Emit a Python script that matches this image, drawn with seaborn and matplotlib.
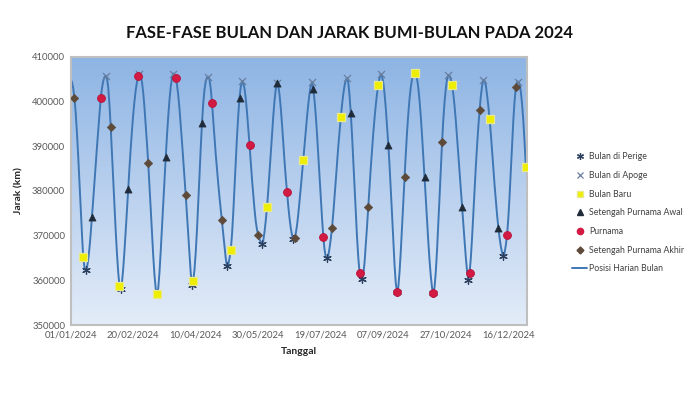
import numpy as np
import pandas as pd
import matplotlib
matplotlib.use("Agg")
import matplotlib.pyplot as plt
import matplotlib.dates as mdates
from matplotlib.colors import LinearSegmentedColormap
from matplotlib.lines import Line2D
import seaborn as sns

# daily Earth-Moon distance in thousand km, 01/01/2024 .. 30/12/2024
daily_kkm = [
    404.9, 404.4, 403.0, 400.8, 397.5, 393.0, 387.8, 382.0, 376.1, 370.4, 365.2, 362.9, 362.3,
    362.8, 364.6, 367.2, 370.5, 374.1, 378.0, 382.0, 386.0, 389.8, 393.5, 397.3, 400.8, 403.0, 404.6, 405.5, 405.8,
    405.3, 403.2, 399.3, 394.3, 388.6, 382.6, 376.6, 371.0, 366.0, 361.8, 358.7, 358.1,
    359.5, 362.6, 366.6, 371.0, 375.7, 380.5, 385.2, 389.6, 393.6, 397.1, 400.1, 402.6, 404.4, 405.7, 406.3,
    405.8, 404.4, 402.0, 398.7, 394.7, 390.6, 386.2, 381.3, 376.0, 370.6, 365.5, 361.2, 358.1, 356.9,
    358.2, 361.8, 366.6, 371.9, 377.2, 382.5, 387.6, 392.4, 396.7, 400.4, 403.3, 405.3, 406.3,
    406.1, 405.3, 403.8, 401.5, 398.4, 394.8, 391.0, 387.1, 383.1, 379.0, 374.6, 370.1, 365.5, 361.6, 358.9, 359.9,
    362.4, 366.3, 371.4, 377.2, 383.4, 389.7, 395.2, 399.6, 402.7, 404.6, 405.4, 405.6,
    405.0, 402.9, 399.7, 395.8, 391.8, 388.2, 384.8, 381.6, 378.6, 375.9, 373.4, 370.6, 367.6, 364.9, 363.2,
    363.6, 364.9, 366.8, 370.2, 375.1, 380.8, 386.7, 392.2, 396.9, 400.8, 403.3, 404.6,
    404.2, 402.9, 400.7, 397.6, 394.1, 390.4, 386.5, 382.6, 379.2, 375.9, 373.2, 371.3, 370.2, 369.2, 368.5, 368.1,
    368.9, 370.8, 373.4, 376.4, 380.1, 384.3, 388.6, 392.8, 396.7, 400.2, 402.8, 404.1,
    403.5, 401.6, 398.6, 394.9, 390.7, 386.7, 383.0, 379.7, 376.6, 373.9, 371.7, 370.1, 369.3, 369.5,
    370.5, 372.3, 374.8, 377.7, 380.7, 383.8, 386.9, 390.2, 393.5, 396.6, 399.4, 401.8, 403.5, 404.4,
    402.8, 400.3, 396.9, 392.7, 388.0, 383.2, 378.4, 373.9, 369.8, 366.9, 365.3, 364.9,
    365.5, 367.2, 369.3, 371.8, 375.0, 378.6, 382.4, 386.3, 390.0, 393.4, 396.5, 399.3, 401.7, 403.6, 404.8, 405.3,
    404.3, 401.4, 397.4, 392.5, 386.9, 381.0, 375.1, 369.6, 365.1, 361.7, 360.4, 360.2,
    361.3, 364.0, 367.9, 372.1, 376.5, 381.0, 385.3, 389.3, 393.0, 396.3, 399.3, 401.8, 403.7, 405.3, 406.2,
    405.7, 404.2, 401.8, 398.5, 394.6, 390.4, 385.7, 380.4, 374.7, 368.8, 363.4, 359.3, 357.3,
    358.5, 361.9, 366.6, 371.9, 377.5, 383.1, 388.4, 393.2, 397.3, 400.7, 403.3, 405.1, 406.1, 406.5,
    406.2, 405.1, 403.1, 400.2, 396.6, 392.4, 387.8, 383.1, 378.2, 373.3, 368.6, 364.4, 360.9, 358.3, 357.2,
    358.5, 362.0, 366.9, 372.6, 378.8, 384.9, 390.9, 396.0, 400.0, 403.0, 405.0, 405.9,
    405.8, 405.0, 403.7, 401.7, 399.0, 395.7, 392.0, 388.1, 384.2, 380.3, 376.5, 372.6, 368.8, 365.1, 362.0, 360.1,
    361.7, 365.0, 369.6, 374.9, 380.3, 385.5, 390.2, 394.4, 398.1, 401.2, 403.5, 404.9,
    404.7, 403.6, 401.5, 399.0, 396.1, 392.8, 389.1, 385.2, 381.3, 377.8, 374.6, 371.8, 369.5, 367.6, 366.2, 365.4,
    366.2, 367.9, 370.2, 374.0, 379.0, 384.8, 390.6, 395.9, 400.2, 403.3, 404.4, 404.5,
    403.9, 402.2, 399.4, 395.6, 390.8, 385.3,
]

perigee_dates = ["2024-01-13", "2024-02-10", "2024-03-10", "2024-04-07", "2024-05-05", "2024-06-02", "2024-06-27",
                 "2024-07-24", "2024-08-21", "2024-09-18", "2024-10-17", "2024-11-14", "2024-12-12"]
perigee_km = [362300, 358100, 356900, 358900, 363200, 368100, 369300, 364900, 360200, 357300, 357200, 360100, 365400]

apogee_dates = ["2024-01-29", "2024-02-25", "2024-03-23", "2024-04-20", "2024-05-17", "2024-06-14", "2024-07-12",
                "2024-08-09", "2024-09-05", "2024-10-02", "2024-10-29", "2024-11-26", "2024-12-24"]
apogee_km = [405800, 406300, 406300, 405600, 404600, 404100, 404400, 405300, 406200, 406500, 405900, 404900, 404500]

new_moon_dates = ["2024-01-11", "2024-02-09", "2024-03-10", "2024-04-08", "2024-05-08", "2024-06-06", "2024-07-05",
                  "2024-08-04", "2024-09-03", "2024-10-02", "2024-11-01", "2024-12-01", "2024-12-30"]
new_moon_km = [365200, 358700, 356900, 359900, 366800, 376400, 386900, 396500, 403700, 406500, 403700, 396100, 385300]

first_q_dates = ["2024-01-18", "2024-02-16", "2024-03-17", "2024-04-15", "2024-05-15", "2024-06-14",
                 "2024-07-13", "2024-08-12", "2024-09-11", "2024-10-10", "2024-11-09", "2024-12-08"]
first_q_km = [374100, 380500, 387600, 395200, 400800, 404100, 402800, 397400, 390400, 383100, 376500, 371800]

full_moon_dates = ["2024-01-25", "2024-02-24", "2024-03-25", "2024-04-23", "2024-05-23", "2024-06-22",
                   "2024-07-21", "2024-08-19", "2024-09-18", "2024-10-17", "2024-11-15", "2024-12-15"]
full_moon_km = [400800, 405700, 405300, 399700, 390400, 379700, 369800, 361700, 357300, 357200, 361700, 370200]

last_q_dates = ["2024-01-04", "2024-02-02", "2024-03-03", "2024-04-02", "2024-05-01", "2024-05-30", "2024-06-28",
                "2024-07-28", "2024-08-26", "2024-09-24", "2024-10-24", "2024-11-23", "2024-12-22"]
last_q_km = [400800, 394300, 386200, 379000, 373400, 370200, 369500, 371800, 376500, 383100, 390900, 398100, 403300]

tick_dates = ["2024-01-01", "2024-02-20", "2024-04-10", "2024-05-30", "2024-07-19", "2024-09-07", "2024-10-27", "2024-12-16"]
y_ticks = [350000, 360000, 370000, 380000, 390000, 400000, 410000]

sns.set_style("white")
plt.rcParams["font.family"] = ["Lato", "DejaVu Sans"]

fig = plt.figure(figsize=(7, 3.93), dpi=100)
ax = fig.add_axes([0.101, 0.173, 0.652, 0.682])

# gradient plot area
grad = LinearSegmentedColormap.from_list("bg", ["#E3ECF8", "#B9D0EE", "#8DB4E4"])
ax.imshow(np.linspace(0, 1, 256).reshape(-1, 1), cmap=grad, origin="lower", aspect="auto",
          extent=[0, 1, 0, 1], transform=ax.transAxes, zorder=0)

days = pd.date_range("2024-01-01", periods=len(daily_kkm), freq="D")
line_df = pd.DataFrame({"Tanggal": days, "Jarak": np.array(daily_kkm) * 1000})
sns.lineplot(data=line_df, x="Tanggal", y="Jarak", color="#3F77B5", lw=1.4, ax=ax, zorder=2)

series = [
    (perigee_dates, perigee_km, dict(marker=(6, 2, 0), color="#2C405E", s=30, linewidth=0.9)),
    (apogee_dates, apogee_km, dict(marker="x", color="#6A7F9E", s=26, linewidth=0.9)),
    (new_moon_dates, new_moon_km, dict(marker="s", color="#EEEE00", edgecolor="#E9E98C", s=30, linewidth=0.9)),
    (first_q_dates, first_q_km, dict(marker="^", color="#1F2B38", edgecolor="#1F2B38", s=26, linewidth=0.5)),
    (full_moon_dates, full_moon_km, dict(marker="o", color="#D21A42", edgecolor="#B8123A", s=32, linewidth=0.6)),
    (last_q_dates, last_q_km, dict(marker="D", color="#5E4A39", edgecolor="#5E4A39", s=18, linewidth=0.5)),
]
for z, (dts, vals, kw) in enumerate(series):
    sns.scatterplot(x=pd.to_datetime(dts), y=vals, ax=ax, zorder=3 + z, legend=False, **kw)

ax.set_xlim(pd.Timestamp("2024-01-01"), pd.Timestamp("2024-12-31"))
ax.set_ylim(350000, 410000)
ax.set_yticks(y_ticks)
ax.set_yticklabels([str(v) for v in y_ticks])
ax.set_xticks(pd.to_datetime(tick_dates))
ax.xaxis.set_major_formatter(mdates.DateFormatter("%d/%m/%Y"))
ax.tick_params(axis="both", length=0, labelsize=6.8, labelcolor="#595959", pad=4)
for sp in ax.spines.values():
    sp.set_color("#BFBFBF")
    sp.set_linewidth(1.5)

ax.set_xlabel("Tanggal", fontsize=7.5, fontweight="bold", color="#262626", labelpad=5)
ax.set_ylabel("Jarak (km)", fontsize=7.5, fontweight="bold", color="#262626", labelpad=6)
fig.text(0.5, 0.915, "FASE-FASE BULAN DAN JARAK BUMI-BULAN PADA 2024", ha="center", va="center",
         fontsize=12, fontweight="bold", color="#111111")

handles = [
    Line2D([], [], ls="", marker=(6, 2, 0), color="#2C405E", markersize=5, mew=0.9),
    Line2D([], [], ls="", marker="x", color="#6A7F9E", markersize=5, mew=0.9),
    Line2D([], [], ls="", marker="s", markerfacecolor="#EEEE00", markeredgecolor="#E9E98C", markersize=5),
    Line2D([], [], ls="", marker="^", color="#1F2B38", markersize=4.5),
    Line2D([], [], ls="", marker="o", color="#D21A42", markersize=4.5),
    Line2D([], [], ls="", marker="D", color="#5E4A39", markersize=3.5),
    Line2D([], [], color="#3F77B5", lw=1.4),
]
labels = ["Bulan di Perige", "Bulan di Apoge", "Bulan Baru", "Setengah Purnama Awal",
          "Purnama", "Setengah Purnama Akhir", "Posisi Harian Bulan"]
fig.legend(handles, labels, loc="upper left", bbox_to_anchor=(0.806, 0.632), frameon=False,
           fontsize=6.3, labelcolor="#404040", handlelength=1.7, handletextpad=0.25, labelspacing=1.1)

fig.savefig("out.png", dpi=100, facecolor="white")
